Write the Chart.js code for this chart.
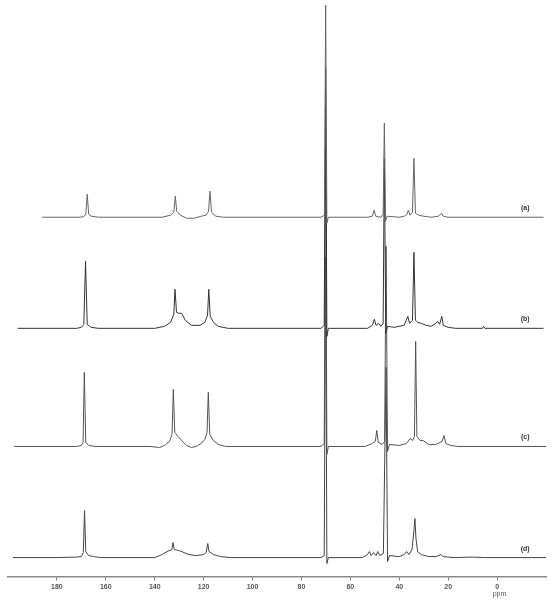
<!DOCTYPE html>
<html>
<head>
<meta charset="utf-8">
<script src="https://cdn.jsdelivr.net/npm/chart.js@4.4.1/dist/chart.umd.min.js"></script>
<style>
html,body{margin:0;padding:0;background:#fff;}
#wrap{width:554px;height:601px;position:relative;}
canvas{filter:blur(0.4px);}
</style>
</head>
<body>
<div id="wrap"><canvas id="c" width="554" height="601"></canvas></div>
<script>
// Chemical shift axis (ppm), tick labels
const tickValues = [180,160,140,120,100,80,60,40,20,0];
const axisUnit = 'ppm';
const traceLabels = ['(a)','(b)','(c)','(d)'];
// vertical stacking offset of each trace (intensity units)
const offsets = [359, 248, 130, 19];

// [ppm, intensity above own baseline]
const traceA = [
 [186,0],[171,0],[169,0.5],[168.2,3],[167.6,23],[167,3],[166,1],[163,0],
 [137,0],[133.5,2],[132.2,5],[131.6,21],[131,6],[129.5,2],[127,-1],[124,-1],[121,1],[119,2],[118,6],[117.4,26],[116.8,5],[115,1],[112,0],
 [72,0],[70.6,2],[70.1,212],[69.6,-6],[69,0],
 [53,0],[51,1],[50.3,7],[49.6,1],[47.5,0],[46.6,3],[46.1,94],[45.6,-4],[45,1],[40,0],[38,1],[36.8,3],[36.3,7],[35.6,2],[34.6,5],[34,59],[33.4,4],[32,2],[30,1],[27,0],[24,1],[22.6,4],[22,1],[20,0],[-19,0]
];
const traceB = [
 [196,0],[172,0],[170,1],[169,4],[168.3,67],[167.6,4],[166,1],[163,0],[140,0],[136,2],[133.5,6],[132.2,14],[131.7,39],[131.1,16],[130,15],[129,15],[127.5,8],[125,3],[121.5,3],[119.5,6],[118.4,13],[117.9,39],[117.3,12],[116,6],[114,2],[110,0],
 [72,0],[70.7,3],[70.1,260],[69.6,-8],[69,0],
 [53,0],[51,3],[50.2,9],[49.5,3],[48.5,5],[47.5,2],[46.6,5],[46.1,170],[45.5,-5],[44.8,2],[42,1],[38,3],[36.5,12],[35.8,5],[34.6,8],[34,76],[33.4,8],[32.5,6],[31,5],[29,3],[27,2],[25,5],[24.3,7],[23.5,4],[22.6,12],[22,3],[20,1],[17,0],[6,0],[5.5,2],[5,0],[-19,0]
];
const traceC = [
 [197.5,0],[172,0],[170,1],[169.3,4],[168.8,74],[168.2,4],[167,1],[164,0],[142,0],[138,-1],[136,1],[134,5],[132.9,12],[132.4,57],[131.8,14],[130.5,10],[129,6],[127,1],[125,-1],[123,0],[121,3],[119.5,7],[118.6,14],[118.1,54],[117.5,12],[116,6],[114,2],[111,0],
 [72,0],[70.7,3],[70.1,300],[69.6,-8],[69,0],
 [54,0],[51,3],[49.8,5],[49.2,16],[48.6,4],[47,2],[46,5],[45.4,200],[44.8,-5],[44,2],[40,1],[37,3],[35.6,8],[34.5,6],[33.8,10],[33.3,105],[32.8,10],[31.5,6],[30.3,6],[28,2],[25,2],[22.5,5],[21.7,11],[21,3],[19,1],[16,0],[-20,0]
];
const traceD = [
 [198,0],[180,0],[172,0.5],[170,1],[169.2,5],[168.7,47],[168.2,6],[167,2],[165,1],[162,0],[140,0],[137,3],[135,6],[133,8],[132.5,15],[132,8],[130,7],[128,5],[126,3],[123,2],[120,3],[119,5],[118.3,14],[117.8,6],[116,3],[113,1],[109,0],
 [72,0],[70.7,2],[70.1,300],[69.6,-6],[69,0],
 [55,0],[53,3],[52.2,6],[51.5,2],[50.5,5],[49.5,2],[48.8,6],[48,2],[46.5,4],[45.4,190],[44.8,-4],[44,2],[40,1],[38,3],[37,6],[36,3],[34.8,8],[34,27],[33.6,39],[33.2,20],[32.5,6],[31,3],[28,1],[25,1],[23,3],[22,1],[18,0],[10,0.5],[5,0],[-20,0]
];
const traces = [traceA, traceB, traceC, traceD];
const colors = ['#666', '#333', '#555', '#444'];

const datasets = traces.map((t, i) => ({
  label: traceLabels[i],
  data: t.map(p => ({x: p[0], y: p[1] + offsets[i]})),
  borderColor: colors[i],
  borderWidth: 1,
  pointRadius: 0,
  tension: 0,
  fill: false
}));

const labelPlugin = {
  id: 'labels',
  afterDraw(chart) {
    const ctx = chart.ctx;
    const xs = chart.scales.x, ys = chart.scales.y;
    ctx.save();
    ctx.fillStyle = '#333';
    ctx.font = 'bold 7px "Liberation Sans", Arial, sans-serif';
    ctx.textAlign = 'center';
    ctx.textBaseline = 'middle';
    traceLabels.forEach((l, i) => {
      ctx.fillText(l, xs.getPixelForValue(-11.5), ys.getPixelForValue(offsets[i] + 9));
    });
    ctx.fillStyle = '#555';
    ctx.font = '7px "Liberation Sans", Arial, sans-serif';
    ctx.fillText(axisUnit, xs.getPixelForValue(-1), xs.bottom + 1);
    ctx.restore();
  }
};

new Chart(document.getElementById('c'), {
  type: 'line',
  data: { datasets },
  plugins: [labelPlugin],
  options: {
    responsive: false,
    animation: false,
    layout: { padding: { left: 8, right: 8, top: 0, bottom: 8 } },
    plugins: { legend: { display: false }, tooltip: { enabled: false } },
    scales: {
      x: {
        type: 'linear',
        reverse: true,
        min: -20,
        max: 200,
        afterBuildTicks(scale) {
          scale.ticks = tickValues.map(v => ({ value: v }));
        },
        ticks: {
          color: '#555',
          font: { size: 7, weight: 'bold', family: '"Liberation Sans", Arial, sans-serif' },
          padding: 2,
          maxRotation: 0,
          autoSkip: false,
          callback: v => String(v)
        },
        grid: { display: true, drawOnChartArea: false, drawTicks: true, tickLength: 4, color: '#777' },
        border: { display: true, color: '#888', width: 1.5 }
      },
      y: {
        display: false,
        min: 0,
        max: 576
      }
    }
  }
});
</script>
</body>
</html>
